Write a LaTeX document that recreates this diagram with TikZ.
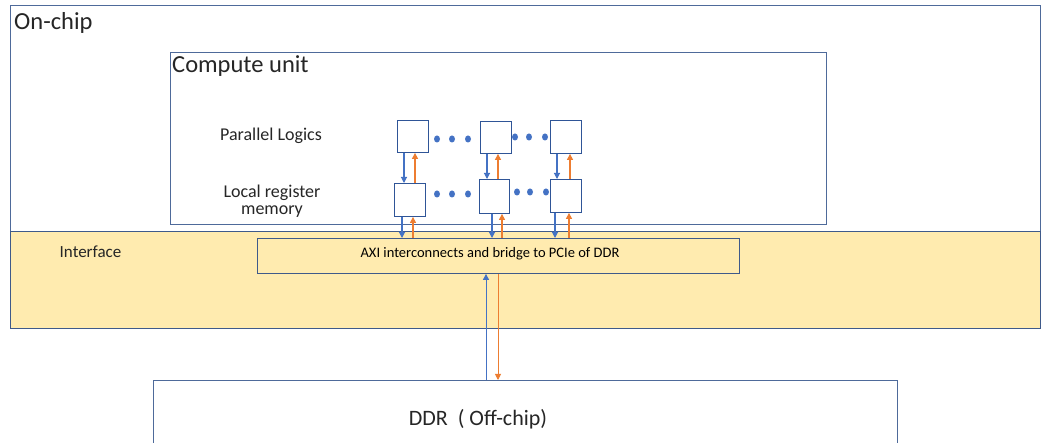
\documentclass[tikz,border=0pt]{standalone}
\usepackage{fontspec}
\setmainfont{Carlito}
\usetikzlibrary{arrows.meta,shapes.geometric}
\definecolor{frame}{HTML}{4E6A9A}
\definecolor{sbox}{HTML}{2F5597}
\definecolor{ablue}{HTML}{4472C4}
\definecolor{aorange}{HTML}{ED7D31}
\definecolor{ifill}{HTML}{FFEBAF}
\definecolor{iframe}{HTML}{3F5A8A}
\definecolor{txt}{HTML}{262626}
\begin{document}
\begin{tikzpicture}[x=1pt,y=-1pt,
  region/.style={draw=frame,line width=0.9pt,inner sep=0pt,anchor=north west},
  cell/.style={draw=sbox,line width=0.9pt,inner sep=0pt,anchor=north west,fill=white},
  barrow/.style={draw=ablue,line width=1.1pt,-{Triangle[length=6pt,width=6pt]}},
  oarrow/.style={draw=aorange,line width=1.1pt,-{Triangle[length=6pt,width=6pt]}},
  dot/.style={ellipse,fill=ablue,inner sep=0pt,minimum width=6pt,minimum height=7pt},
  lbl/.style={inner sep=0pt,text=txt}]
\clip (0,0) rectangle (1042,443);
\fill[white] (0,0) rectangle (1042,443);
% on-chip region
\node[region,minimum width=1030pt,minimum height=323pt] (onchip) at (10,5) {};
\node[lbl,anchor=base west,font=\fontsize{24.5}{26}\selectfont] (onchiplbl) at (14,30) {On-chip};
% compute unit
\node[region,minimum width=656pt,minimum height=172pt] (cu) at (170,52) {};
\node[lbl,anchor=base west,font=\fontsize{24.5}{26}\selectfont] (culbl) at (172,73) {Compute unit};
\node[lbl,anchor=base,font=\fontsize{18}{20}\selectfont] (pl) at (271,141) {Parallel Logics};
\node[lbl,anchor=base,font=\fontsize{18}{20}\selectfont] (lr1) at (272,198) {Local register};
\node[lbl,anchor=base,font=\fontsize{18}{20}\selectfont] (lr2) at (272,215) {memory};
% interface
\node[draw=iframe,fill=ifill,line width=1.1pt,inner sep=0pt,anchor=north west,minimum width=1030pt,minimum height=97pt] (iface) at (10,231) {};
\node[lbl,anchor=base,font=\fontsize{17}{19}\selectfont] (ifacelbl) at (90.5,258) {Interface};
\node[draw=iframe,line width=0.9pt,inner sep=0pt,anchor=north west,minimum width=482pt,minimum height=35pt] (axi) at (257,238) {};
\node[lbl,anchor=base,font=\fontsize{14.5}{16}\selectfont,text=black] (axilbl) at (490,258) {AXI interconnects and bridge to PCIe of DDR};
% DDR
\node[region,minimum width=744pt,minimum height=80pt] (ddr) at (153,380) {};
\node[lbl,anchor=base,font=\fontsize{22}{24}\selectfont] (ddrlbl) at (478,426) {DDR\ \ ( Off-chip)};
% cells
\node[cell,minimum width=31pt,minimum height=32pt] (p1) at (397,120) {};
\node[cell,minimum width=31pt,minimum height=32pt] (p2) at (480,121) {};
\node[cell,minimum width=31pt,minimum height=33pt] (p3) at (550,120) {};
\node[cell,minimum width=31pt,minimum height=33pt] (l1) at (394,183) {};
\node[cell,minimum width=30pt,minimum height=34pt] (l2) at (479,179) {};
\node[cell,minimum width=31pt,minimum height=33pt] (l3) at (550,179) {};
% dots
\foreach \x/\y [count=\i] in {437/139,452/139,468/139,515/137,529/137,545/137,437/194,452/194,468/194,517/192,530/192,546/192}
  \node[dot] (d\i) at (\x,\y) {};
% column coordinates
\coordinate (xb1) at (404,0); \coordinate (xo1) at (415,0);
\coordinate (xb2) at (487,0); \coordinate (xo2) at (498,0);
\coordinate (xb3) at (557,0); \coordinate (xo3) at (570,0);
\coordinate (yb1) at (402,0); \coordinate (yo1) at (413,0);
\coordinate (yb2) at (492,0); \coordinate (yo2) at (502,0);
\coordinate (yb3) at (555,0); \coordinate (yo3) at (569,0);
\coordinate (zb) at (486,0); \coordinate (zo) at (498,0);
% arrows between rows
\draw[barrow] (p1.south -| xb1) -- (l1.north -| xb1);
\draw[oarrow] (l1.north -| xo1) -- (p1.south -| xo1);
\draw[barrow] (p2.south -| xb2) -- (l2.north -| xb2);
\draw[oarrow] (l2.north -| xo2) -- (p2.south -| xo2);
\draw[barrow] (p3.south -| xb3) -- (l3.north -| xb3);
\draw[oarrow] (l3.north -| xo3) -- (p3.south -| xo3);
% arrows to AXI
\draw[barrow] (l1.south -| yb1) -- (axi.north -| yb1);
\draw[oarrow] (axi.north -| yo1) -- (l1.south -| yo1);
\draw[barrow] (l2.south -| yb2) -- (axi.north -| yb2);
\draw[oarrow] (axi.north -| yo2) -- (l2.south -| yo2);
\draw[barrow] (l3.south -| yb3) -- (axi.north -| yb3);
\draw[oarrow] (axi.north -| yo3) -- (l3.south -| yo3);
% AXI <-> DDR
\draw[barrow,line width=0.9pt] (ddr.north -| zb) -- (axi.south -| zb);
\draw[oarrow,line width=0.9pt] (axi.south -| zo) -- (ddr.north -| zo);
\end{tikzpicture}
\end{document}
